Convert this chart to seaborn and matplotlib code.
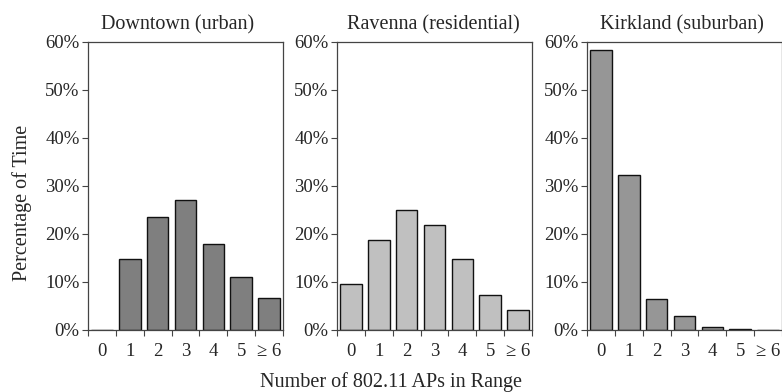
import matplotlib
matplotlib.use("Agg")
import matplotlib.pyplot as plt
import seaborn as sns
import pandas as pd
import numpy as np

sns.set_theme(style="white")
plt.rcParams["font.family"] = ["Liberation Serif", "DejaVu Serif"]

categories = ["0", "1", "2", "3", "4", "5", "\u2265 6"]
titles = ["Downtown (urban)", "Ravenna (residential)", "Kirkland (suburban)"]
downtown = [0.0, 14.7, 23.6, 27.0, 17.9, 11.0, 6.6]
ravenna = [9.5, 18.8, 24.9, 21.8, 14.7, 7.2, 4.2]
kirkland = [58.3, 32.3, 6.4, 3.0, 0.6, 0.15, 0.0]
series = [downtown, ravenna, kirkland]
colors = ["#7f7f7f", "#c0c0c0", "#969696"]
yticks = [0, 10, 20, 30, 40, 50, 60]

fig = plt.figure(figsize=(7.82, 3.92), dpi=100)
lefts = [88, 337, 587]
title_x = [0.459, 0.492, 0.485]
W, H = 782, 392
frame = "#444444"

for i, (vals, title, col) in enumerate(zip(series, titles, colors)):
    ax = fig.add_axes([lefts[i] / W, 1 - 330 / H, 195 / W, 288 / H])
    df = pd.DataFrame({"n": categories, "pct": vals})
    sns.barplot(data=df, x="n", y="pct", order=categories, color=col,
                saturation=1, width=0.77, edgecolor="#111111", linewidth=1.0,
                ax=ax)
    ax.set_xlim(-0.5, 6.5)
    ax.set_ylim(0, 60)
    ax.set_yticks(yticks)
    ax.set_yticklabels([f"{t}%" for t in yticks], fontsize=13.5)
    # ticks sit at category boundaries, labels at category centres
    ax.set_xticks(np.arange(-0.5, 7.0, 1.0))
    ax.set_xticklabels([])
    ax.set_xticks(np.arange(7), minor=True)
    ax.set_xticklabels(categories, minor=True, fontsize=13.5)
    ax.tick_params(axis="x", which="major", direction="out", length=4,
                   width=0.8, color=frame, bottom=True)
    ax.tick_params(axis="x", which="minor", length=0, pad=9, bottom=True)
    ax.tick_params(axis="y", direction="out", length=4, width=0.8,
                   color=frame, left=True, pad=2)
    ax.set_xlabel("")
    ax.set_ylabel("")
    for s in ax.spines.values():
        s.set_visible(True)
        s.set_color(frame)
        s.set_linewidth(0.9)
    ax.set_title(title, fontsize=14.5, pad=9, x=title_x[i])

fig.text(22 / W, 1 - 203 / H, "Percentage of Time", rotation=90,
         ha="center", va="center", fontsize=14.5)
fig.text(391 / W, 1 - 382 / H, "Number of 802.11 APs in Range",
         ha="center", va="center", fontsize=14.5)

fig.savefig("out.png", dpi=100)
